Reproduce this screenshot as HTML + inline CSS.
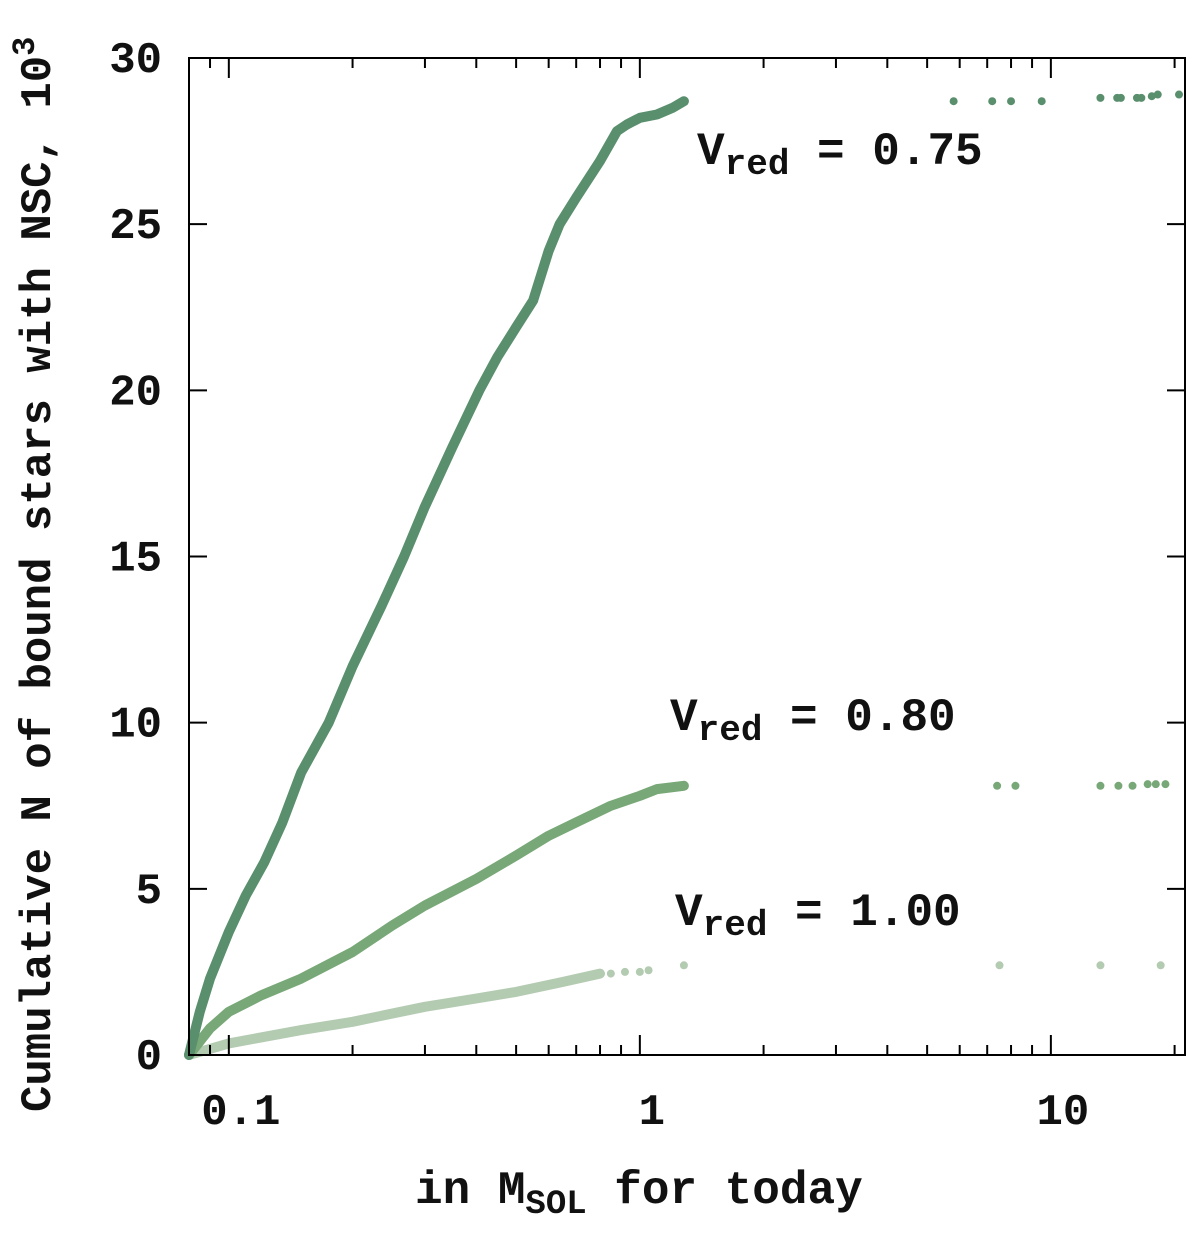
<!DOCTYPE html>
<html><head><meta charset="utf-8"><style>
body{margin:0;background:#fff}
svg text{font-family:"Liberation Mono",monospace;font-weight:bold;fill:#111}
</style></head><body>
<svg id="chart" width="1200" height="1234" viewBox="0 0 1200 1234" xmlns="http://www.w3.org/2000/svg">
<g id="marks"></g><g id="axes"></g>
</svg>
<script>
const yTicks=[0,5,10,15,20,25,30];
const xMajor=[0.1,1,10];
const xMajorLabels=["0.1","1","10"];
const xMinor=[0.08,0.09,0.2,0.3,0.4,0.5,0.6,0.7,0.8,0.9,2,3,4,5,6,7,8,9,20];
const m075=[0.08,0.085,0.09,0.1,0.11,0.122,0.135,0.15,0.175,0.2,0.235,0.267,0.3,0.35,0.407,0.45,0.5,0.55,0.6,0.638,0.7,0.8,0.88,0.93,1.0,1.1,1.2,1.28];
const n075=[0,1.3,2.3,3.7,4.8,5.8,7.0,8.5,10,11.7,13.5,15,16.5,18.3,20,21,21.9,22.7,24.2,25,25.8,26.9,27.8,28.0,28.2,28.3,28.5,28.7];
const d075m=[5.8,7.2,8.0,9.5,13.2,14.5,14.8,16.2,16.6,17.6,18.2,20.5];
const d075n=[28.7,28.7,28.7,28.7,28.8,28.8,28.8,28.8,28.8,28.85,28.9,28.9];
const m080=[0.08,0.09,0.1,0.12,0.15,0.2,0.25,0.3,0.4,0.5,0.6,0.7,0.85,1.0,1.1,1.28];
const n080=[0,0.8,1.3,1.8,2.3,3.1,3.9,4.5,5.3,6.0,6.6,7.0,7.5,7.8,8.0,8.1];
const d080m=[7.4,8.2,13.2,14.6,15.8,17.2,18.0,19.0];
const d080n=[8.1,8.1,8.1,8.1,8.1,8.15,8.15,8.15];
const m100=[0.08,0.1,0.15,0.2,0.3,0.4,0.5,0.65,0.8];
const n100=[0,0.35,0.75,1.0,1.45,1.7,1.9,2.2,2.45];
const d100m=[0.85,0.92,1.0,1.05,1.28,7.5,13.2,18.5];
const d100n=[2.45,2.5,2.5,2.55,2.7,2.7,2.7,2.7];
const L=189,R=1185,T=58,B=1055,XMIN=0.08,XMAX=21.2,YMAX=30;
const x=v=>L+(Math.log10(v)-Math.log10(XMIN))/(Math.log10(XMAX)-Math.log10(XMIN))*(R-L);
const y=v=>B-v/YMAX*(B-T);
const NS="http://www.w3.org/2000/svg";
const marks=document.getElementById('marks'),axes=document.getElementById('axes');
function mk(t,a,p){const e=document.createElementNS(NS,t);for(const k in a)e.setAttribute(k,a[k]);p.appendChild(e);return e;}
function series(ms,ns,dm,dn,col,name){
  const p=mk('path',{d:ms.map((m,i)=>(i?'L':'M')+x(m).toFixed(1)+' '+y(ns[i]).toFixed(1)).join(' '),fill:'none',stroke:col,'stroke-width':10,'stroke-linecap':'round','stroke-linejoin':'round'},marks);
  
  
  dm.forEach((m,i)=>{const c=mk('circle',{cx:x(m),cy:y(dn[i]),r:4,fill:col},marks);
    
    });
}
series(m100,n100,d100m,d100n,'#b3cbb1','series-vred-1-00');
series(m080,n080,d080m,d080n,'#78a877','series-vred-0-80');
series(m075,n075,d075m,d075n,'#5a8f6e','series-vred-0-75');
const fr=mk('rect',{x:L,y:T,width:R-L,height:B-T,fill:'none',stroke:'#000','stroke-width':2},axes);


yTicks.forEach(v=>{
  mk('line',{x1:L,x2:L+18,y1:y(v),y2:y(v),stroke:'#000','stroke-width':2},axes);
  mk('line',{x1:R,x2:R-18,y1:y(v),y2:y(v),stroke:'#000','stroke-width':2},axes);
  const t=mk('text',{x:162,y:y(v)+14,'text-anchor':'end','font-size':44},axes);t.textContent=v;
  
  
});
xMajor.forEach((v,i)=>{
  mk('line',{x1:x(v),x2:x(v),y1:B,y2:B-20,stroke:'#000','stroke-width':2},axes);
  mk('line',{x1:x(v),x2:x(v),y1:T,y2:T+20,stroke:'#000','stroke-width':2},axes);
  const t=mk('text',{x:x(v)+12,y:1124,'text-anchor':'middle','font-size':44},axes);t.textContent=xMajorLabels[i];
  
  
});
xMinor.forEach(v=>{
  mk('line',{x1:x(v),x2:x(v),y1:B,y2:B-10,stroke:'#000','stroke-width':2},axes);
  mk('line',{x1:x(v),x2:x(v),y1:T,y2:T+10,stroke:'#000','stroke-width':2},axes);
});
</script>
<svg style="position:absolute;left:0;top:0" width="1200" height="1234" xmlns="http://www.w3.org/2000/svg">
<text x="697" y="164" font-size="46">V<tspan font-size="36" dy="10">red</tspan><tspan dy="-10"> = 0.75</tspan></text>
<text x="670" y="730" font-size="46">V<tspan font-size="36" dy="10">red</tspan><tspan dy="-10"> = 0.80</tspan></text>
<text x="675" y="925" font-size="46">V<tspan font-size="36" dy="10">red</tspan><tspan dy="-10"> = 1.00</tspan></text>
<text x="415" y="1203" font-size="46">in M<tspan font-size="34" dy="10">SOL</tspan><tspan dy="-10"> for today</tspan></text>
<text transform="translate(50,1112) rotate(-90)" font-size="44">Cumulative N of bound stars with NSC, 10<tspan font-size="32" dy="-16">3</tspan></text>
</svg>
</body></html>
